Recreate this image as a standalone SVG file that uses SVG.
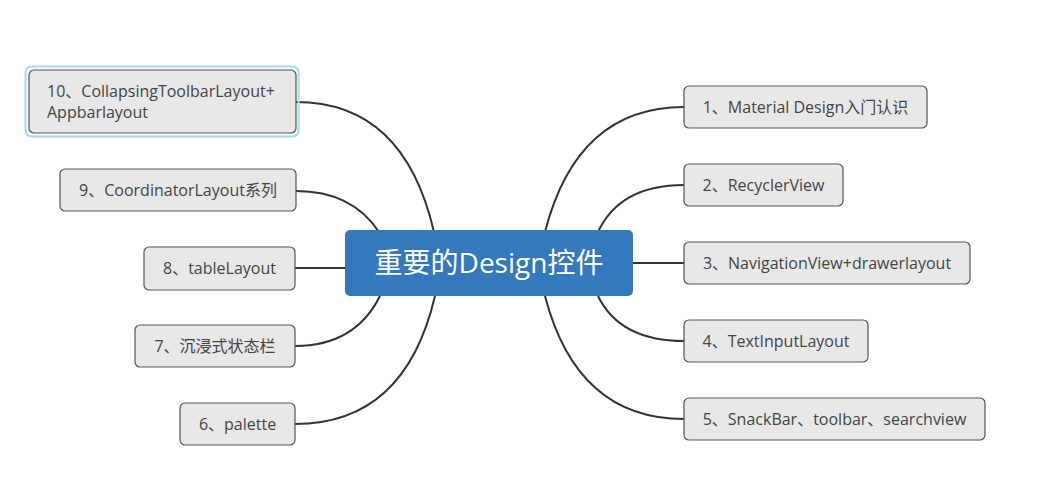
<svg xmlns="http://www.w3.org/2000/svg" width="1042" height="496" viewBox="0 0 1042 496">
<style>
.n rect.b{fill:#e8e8e8;stroke:#555;stroke-width:1.2}
.n text{font-family:"Open Sans","Noto Sans CJK SC",sans-serif;font-size:16px;fill:#444;text-anchor:middle}
.c path{fill:none;stroke:#333;stroke-width:2}
</style>
<rect width="1042" height="496" fill="#ffffff"/>
<g class="c" id="connectors">
<path d="M545,232 Q577,107 684,107"/>
<path d="M598,232 Q620,185 684,185"/>
<path d="M633,263 L684,263"/>
<path d="M598,296 Q620,341 684,341"/>
<path d="M545,296 Q577,419 684,419"/>
<path d="M434,232 Q404,102 296,102"/>
<path d="M379,232 Q352,191 296,191"/>
<path d="M345,268 L295,268"/>
<path d="M380,296 Q355,346 295,346"/>
<path d="M435,296 Q405,424 295,424"/>
</g>
<g id="center">
<rect x="345" y="230" width="288" height="66" rx="5" fill="#3479bd"/>
<text x="489" y="273" font-family="'Open Sans','Noto Sans CJK SC',sans-serif" font-size="28" fill="#ffffff" text-anchor="middle">重要的Design控件</text>
</g>
<g class="n" id="n1"><rect class="b" x="684" y="86" width="243" height="42" rx="5"/><text x="805.5" y="112.5">1、Material Design入门认识</text></g>
<g class="n" id="n2"><rect class="b" x="684" y="164" width="159" height="42" rx="5"/><text x="763.5" y="190.5">2、RecyclerView</text></g>
<g class="n" id="n3"><rect class="b" x="684" y="242" width="286" height="42" rx="5"/><text x="827" y="268.5">3、NavigationView+drawerlayout</text></g>
<g class="n" id="n4"><rect class="b" x="684" y="320" width="184" height="42" rx="5"/><text x="776" y="346.5">4、TextInputLayout</text></g>
<g class="n" id="n5"><rect class="b" x="684" y="398" width="301" height="42" rx="5"/><text x="834.5" y="424.5">5、SnackBar、toolbar、searchview</text></g>
<g class="n" id="n10"><rect x="25.5" y="66.5" width="273" height="70" rx="6" fill="none" stroke="#a6d8f7" stroke-width="2"/><rect class="b" x="29" y="70" width="267" height="63" rx="5"/><text x="47" y="96.5" style="text-anchor:start">10、CollapsingToolbarLayout+</text><text x="47" y="117.5" style="text-anchor:start">Appbarlayout</text></g>
<g class="n" id="n9"><rect class="b" x="60" y="169" width="236" height="42" rx="5"/><text x="178" y="195.5">9、CoordinatorLayout系列</text></g>
<g class="n" id="n8"><rect class="b" x="144" y="247" width="151" height="43" rx="5"/><text x="219.5" y="274">8、tableLayout</text></g>
<g class="n" id="n7"><rect class="b" x="135" y="325" width="160" height="42" rx="5"/><text x="215" y="351.5">7、沉浸式状态栏</text></g>
<g class="n" id="n6"><rect class="b" x="180" y="403" width="115" height="42" rx="5"/><text x="237.5" y="429.5">6、palette</text></g>
</svg>
